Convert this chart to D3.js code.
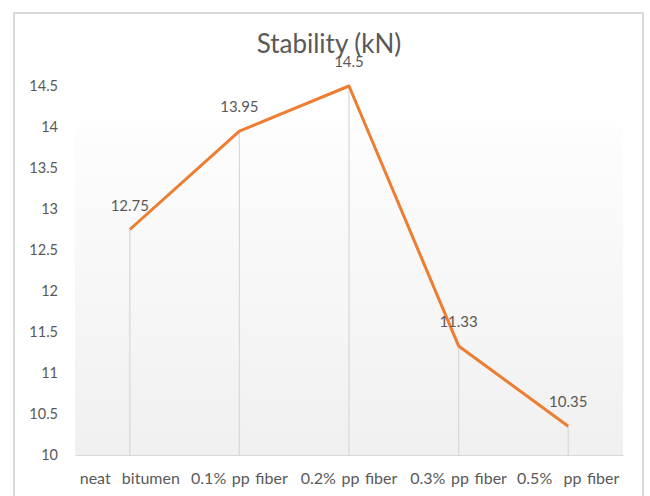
<!DOCTYPE html>
<html>
<head>
<meta charset="utf-8">
<script src="https://cdn.jsdelivr.net/npm/d3@7"></script>
<style>
  html, body { margin: 0; padding: 0; background: #fff; }
  svg text { font-family: Lato, "Open Sans", sans-serif; fill: #595959; white-space: pre; }
</style>
</head>
<body>
<svg id="chart" width="650" height="496"></svg>
<script>
// Stability of mixes (kN)
const categories = ["neat  bitumen", "0.1% pp fiber", "0.2% pp fiber", "0.3% pp fiber", "0.5%  pp fiber"];
const stability = [12.75, 13.95, 14.5, 11.33, 10.35];
const labels = ["12.75", "13.95", "14.5", "11.33", "10.35"];
const yTicks = [10, 10.5, 11, 11.5, 12, 12.5, 13, 13.5, 14, 14.5];

const svg = d3.select("#chart");
const plot = { left: 75, right: 623, top: 86, bottom: 455, fillTop: 127 };

// outer chart frame
svg.append("rect")
  .attr("x", 14).attr("y", 13).attr("width", 629).attr("height", 500)
  .attr("fill", "#fff").attr("stroke", "#d9d9d9").attr("stroke-width", 2);

// plot area gradient
const defs = svg.append("defs");
const grad = defs.append("linearGradient").attr("id", "plotFill")
  .attr("x1", 0).attr("y1", 0).attr("x2", 0).attr("y2", 1);
grad.append("stop").attr("offset", "0%").attr("stop-color", "#fdfdfd");
grad.append("stop").attr("offset", "100%").attr("stop-color", "#f0f0f0");
svg.append("rect")
  .attr("x", plot.left).attr("y", plot.fillTop)
  .attr("width", plot.right - plot.left).attr("height", plot.bottom - plot.fillTop)
  .attr("fill", "url(#plotFill)");

const x = d3.scaleBand().domain(categories).range([plot.left, plot.right]);
const y = d3.scaleLinear().domain([10, 14.5]).range([plot.bottom, plot.top]);
const cx = c => x(c) + x.bandwidth() / 2;

// category axis
const xAxis = svg.append("g").attr("transform", `translate(0,${plot.bottom})`)
  .call(d3.axisBottom(x).tickSize(0).tickPadding(18));
xAxis.select(".domain").attr("stroke", "#d9d9d9");
xAxis.selectAll("text").style("font-size", "16px").style("word-spacing", "1.5px").attr("fill", "#595959");

// value axis (labels only)
const yAxis = svg.append("g").attr("transform", `translate(${plot.left},0)`)
  .call(d3.axisLeft(y).tickValues(yTicks).tickFormat(d3.format("")).tickSize(0).tickPadding(17));
yAxis.select(".domain").remove();
yAxis.selectAll("text").style("font-size", "14.5px").attr("fill", "#595959");

const pts = categories.map((c, i) => ({ c, v: stability[i], label: labels[i] }));

// drop lines
svg.append("g").selectAll("line").data(pts).join("line")
  .attr("x1", d => cx(d.c)).attr("x2", d => cx(d.c))
  .attr("y1", d => y(d.v)).attr("y2", plot.bottom)
  .attr("stroke", "#d9d9d9").attr("stroke-width", 1.3);

// series line
svg.append("path").datum(pts)
  .attr("d", d3.line().x(d => cx(d.c)).y(d => y(d.v)))
  .attr("fill", "none").attr("stroke", "#ed7d31").attr("stroke-width", 3)
  .attr("stroke-linejoin", "round");

// data labels
svg.append("g").selectAll("text").data(pts).join("text")
  .attr("x", d => cx(d.c)).attr("y", d => y(d.v) - 19)
  .attr("text-anchor", "middle").style("font-size", "15px")
  .text(d => d.label);

// title
svg.append("text").attr("x", 329).attr("y", 53)
  .attr("text-anchor", "middle").style("font-size", "26px")
  .text("Stability (kN)");
</script>
</body>
</html>
